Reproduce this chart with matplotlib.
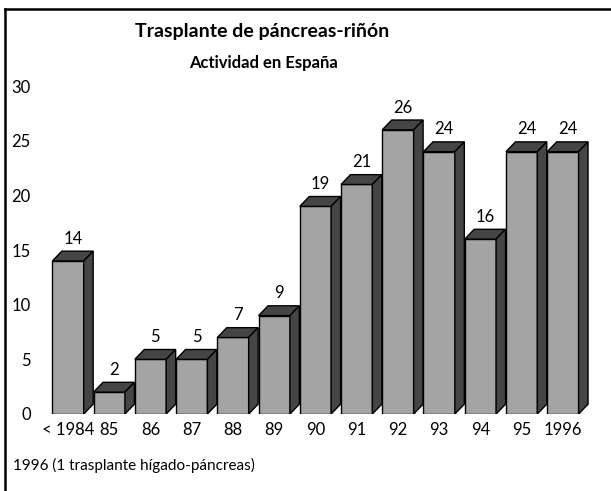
import numpy as np
import matplotlib
matplotlib.use('Agg')
from matplotlib import pyplot as plt
from matplotlib.lines import Line2D

plt.rcParams['font.family'] = ['Lato', 'DejaVu Sans']

categories = ['< 1984', '85', '86', '87', '88', '89', '90', '91', '92', '93', '94', '95', '1996']
values = [14, 2, 5, 5, 7, 9, 19, 21, 26, 24, 16, 24, 24]
yticks = [0, 5, 10, 15, 20, 25, 30]

front_color = '#a4a4a4'
dark_color = '#454545'
bar_w = 0.76
dx, dy = 0.23, 0.9  # 3d depth offset in data units

fig = plt.figure(figsize=(6.11, 4.91), dpi=100)
ax = fig.add_axes([47.4 / 611, 77 / 491, (600 - 47.4) / 611, (414 - 75.2) / 491])

for i, v in enumerate(values):
    x0 = i - bar_w / 2
    x1 = i + bar_w / 2
    # front face
    ax.fill([x0, x1, x1, x0], [0, 0, v, v], facecolor=front_color, edgecolor='black', lw=1.0, zorder=2 + i)
    # top face
    ax.fill([x0, x1, x1 + dx, x0 + dx], [v, v, v + dy, v + dy], facecolor=dark_color, edgecolor='black', lw=1.0, zorder=2 + i)
    # side face
    ax.fill([x1, x1 + dx, x1 + dx, x1], [0, dy, v + dy, v], facecolor=dark_color, edgecolor='black', lw=1.0, zorder=2 + i)
    ax.text(i + dx / 2, v + dy + 0.4, str(v), ha='center', va='bottom', fontsize=12, zorder=20)

ax.set_xlim(-0.5, 12.9)
ax.set_ylim(0, 31)
ax.set_xticks(range(len(categories)))
ax.set_xticklabels(categories, fontsize=12)
ax.set_yticks(yticks)
ax.set_yticklabels([str(t) for t in yticks], fontsize=12)
ax.tick_params(length=0, pad=6)
ax.tick_params(axis='y', pad=12)
for s in ax.spines.values():
    s.set_visible(False)

fig.text(262 / 611, 1 - 32 / 491, 'Trasplante de páncreas-riñón', ha='center', va='center',
         fontsize=14, fontweight='bold')
fig.text(263 / 611, 1 - 63 / 491, 'Actividad en España', ha='center', va='center',
         fontsize=12, fontweight='bold')
fig.text(13 / 611, 1 - 465 / 491, '1996 (1 trasplante hígado-páncreas)', ha='left', va='center',
         fontsize=11)

# frame lines (top and left)
fig.add_artist(Line2D([5 / 611, 1], [1 - 9 / 491, 1 - 9 / 491], color='black', lw=1.8, transform=fig.transFigure))
fig.add_artist(Line2D([5 / 611, 5 / 611], [0, 1 - 9 / 491], color='black', lw=1.8, transform=fig.transFigure))

fig.savefig('out.png', dpi=100, facecolor='white')
